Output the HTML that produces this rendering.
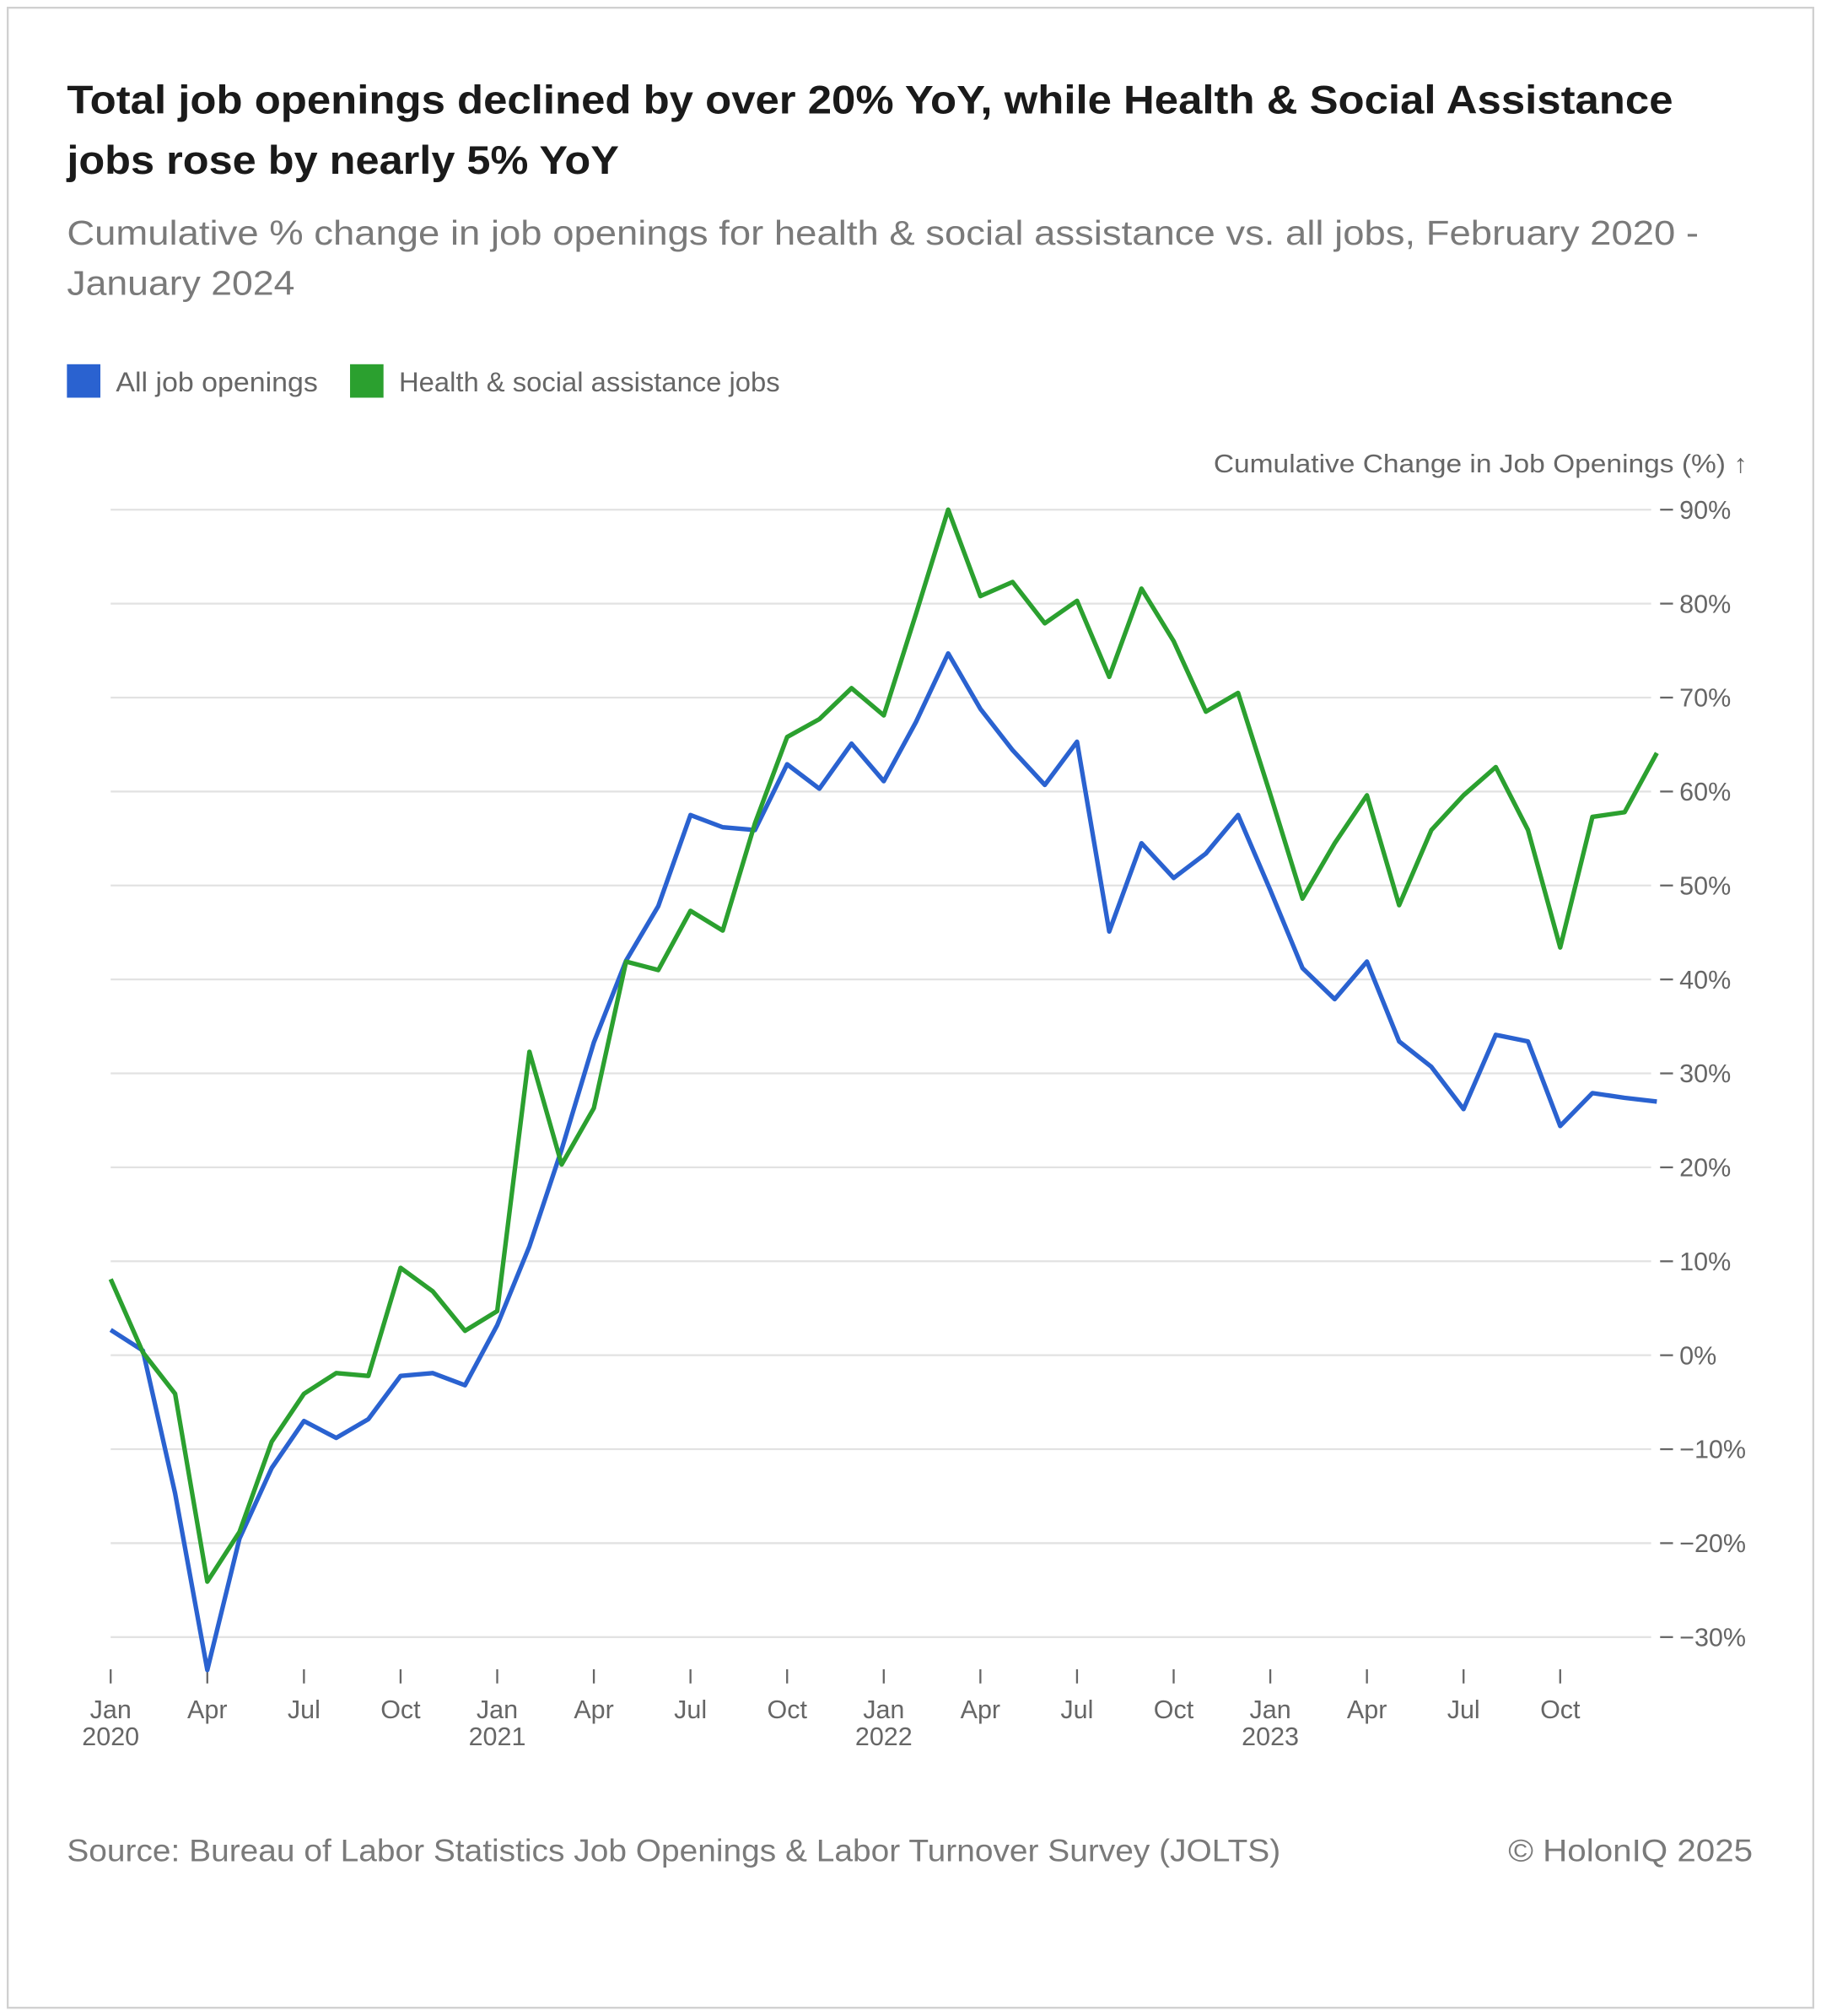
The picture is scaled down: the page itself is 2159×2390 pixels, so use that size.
<!DOCTYPE html>
<html><head><meta charset="utf-8">
<style>
html,body{margin:0;padding:0;background:#fff;}
svg{display:block;font-family:"Liberation Sans",sans-serif;}
</style></head>
<body>
<svg id="chart" width="2159" height="2390" viewBox="0 0 1415 1566.4" xmlns="http://www.w3.org/2000/svg">
<rect x="6" y="6" width="1403" height="1554" fill="#fff" stroke="#d0d0d0" stroke-width="1.5"/>
<text x="52" y="88" font-size="31" font-weight="bold" fill="#1a1a1a" textLength="1248" lengthAdjust="spacingAndGlyphs">Total job openings declined by over 20% YoY, while Health &amp; Social Assistance</text>
<text x="52" y="135" font-size="31" font-weight="bold" fill="#1a1a1a" textLength="429" lengthAdjust="spacingAndGlyphs">jobs rose by nearly 5% YoY</text>
<text x="52" y="190" font-size="27" fill="#7a7a7a" textLength="1268" lengthAdjust="spacingAndGlyphs">Cumulative % change in job openings for health &amp; social assistance vs. all jobs, February 2020 -</text>
<text x="52" y="229" font-size="27" fill="#7a7a7a" textLength="177" lengthAdjust="spacingAndGlyphs">January 2024</text>
<g>
<rect x="52" y="283" width="26" height="26" fill="#2a62d0"/>
<text x="90" y="304" font-size="21" fill="#666" textLength="157" lengthAdjust="spacingAndGlyphs">All job openings</text>
<rect x="272" y="283" width="26" height="26" fill="#2ba02f"/>
<text x="310" y="304" font-size="21" fill="#666" textLength="296" lengthAdjust="spacingAndGlyphs">Health &amp; social assistance jobs</text>
</g>
<text x="943" y="367" font-size="20" fill="#666" textLength="415" lengthAdjust="spacingAndGlyphs">Cumulative Change in Job Openings (%) ↑</text>
<g id="grid"></g>
<g id="yaxis"></g>
<g id="xaxis"></g>
<g id="series"></g>
<text x="52" y="1446" font-size="24" fill="#7a7a7a" textLength="943" lengthAdjust="spacingAndGlyphs">Source: Bureau of Labor Statistics Job Openings &amp; Labor Turnover Survey (JOLTS)</text>
<text x="1172" y="1446" font-size="24" fill="#7a7a7a" textLength="190" lengthAdjust="spacingAndGlyphs">© HolonIQ 2025</text>
</svg>
<script>
const allJobs = [2.7,0.5,-14.7,-33.5,-19.5,-12,-7,-8.8,-6.8,-2.2,-1.9,-3.2,3.2,11.6,21.9,33.3,42,47.8,57.5,56.2,55.9,62.9,60.3,65.1,61.1,67.4,74.7,68.8,64.4,60.7,65.3,45.1,54.5,50.8,53.4,57.5,49.5,41.2,37.9,41.9,33.4,30.7,26.2,34.1,33.4,24.4,27.9,27.4,27.0];
const healthJobs = [8.1,0.3,-4.1,-24.1,-18.8,-9.2,-4.1,-1.9,-2.2,9.3,6.8,2.6,4.7,32.3,20.3,26.3,41.9,41,47.3,45.2,56.6,65.8,67.7,71,68.1,78.9,90,80.8,82.3,77.9,80.3,72.2,81.6,76,68.5,70.5,59.7,48.6,54.5,59.6,47.9,55.9,59.6,62.6,55.9,43.4,57.3,57.8,64.1];
const yTicks = [90,80,70,60,50,40,30,20,10,0,-10,-20,-30];
const xTickMonths = [0,3,6,9,12,15,18,21,24,27,30,33,36,39,42,45];
const xTickLabels = ["Jan","Apr","Jul","Oct","Jan","Apr","Jul","Oct","Jan","Apr","Jul","Oct","Jan","Apr","Jul","Oct"];
const xTickYears = ["2020","","","","2021","","","","2022","","","","2023","","",""];
const NS="http://www.w3.org/2000/svg";
const x = i => 86 + i*25.03;
const y = v => 1053 - v*7.3;
function mk(tag, parent){const e=document.createElementNS(NS,tag);parent.appendChild(e);return e;}
const grid=document.getElementById('grid'), ya=document.getElementById('yaxis'), xa=document.getElementById('xaxis'), ser=document.getElementById('series');
yTicks.forEach(t=>{
  const l=mk('line',grid);
  
  
  l.setAttribute('x1',86);l.setAttribute('x2',1283);l.setAttribute('y1',y(t));l.setAttribute('y2',y(t));
  l.setAttribute('stroke','#e2e2e2');l.setAttribute('stroke-width','1.5');
  const tk=mk('line',ya);
  
  
  tk.setAttribute('x1',1290);tk.setAttribute('x2',1300);tk.setAttribute('y1',y(t));tk.setAttribute('y2',y(t));
  tk.setAttribute('stroke','#666');tk.setAttribute('stroke-width','1.5');
  const tx=mk('text',ya);
  
  
  tx.setAttribute('x',1305);tx.setAttribute('y',y(t)+7);tx.setAttribute('font-size','20');tx.setAttribute('fill','#666');
  tx.textContent=(t<0?'\u2212'+(-t):t)+'%';
});
xTickMonths.forEach((m,i)=>{
  const tk=mk('line',xa);
  
  
  tk.setAttribute('x1',x(m));tk.setAttribute('x2',x(m));tk.setAttribute('y1',1297);tk.setAttribute('y2',1308);
  tk.setAttribute('stroke','#666');tk.setAttribute('stroke-width','1.5');
  const tx=mk('text',xa);
  
  
  tx.setAttribute('x',x(m));tx.setAttribute('y',1335);tx.setAttribute('font-size','20');tx.setAttribute('fill','#666');tx.setAttribute('text-anchor','middle');
  tx.textContent=xTickLabels[i];
  if(xTickYears[i]){
    const ty=mk('text',xa);
    
    
    ty.setAttribute('x',x(m));ty.setAttribute('y',1356);ty.setAttribute('font-size','20');ty.setAttribute('fill','#666');ty.setAttribute('text-anchor','middle');
    ty.textContent=xTickYears[i];
  }
});
function line(data,color,name){
  const p=mk('path',ser);
  
  
  p.setAttribute('d',data.map((v,i)=>(i?'L':'M')+x(i).toFixed(2)+','+y(v).toFixed(2)).join(''));
  p.setAttribute('fill','none');p.setAttribute('stroke',color);p.setAttribute('stroke-width','3.5');p.setAttribute('stroke-linejoin','round');
}
line(allJobs,'#2a62d0','all-jobs-line');
line(healthJobs,'#2ba02f','health-jobs-line');
</script>
</body></html>
